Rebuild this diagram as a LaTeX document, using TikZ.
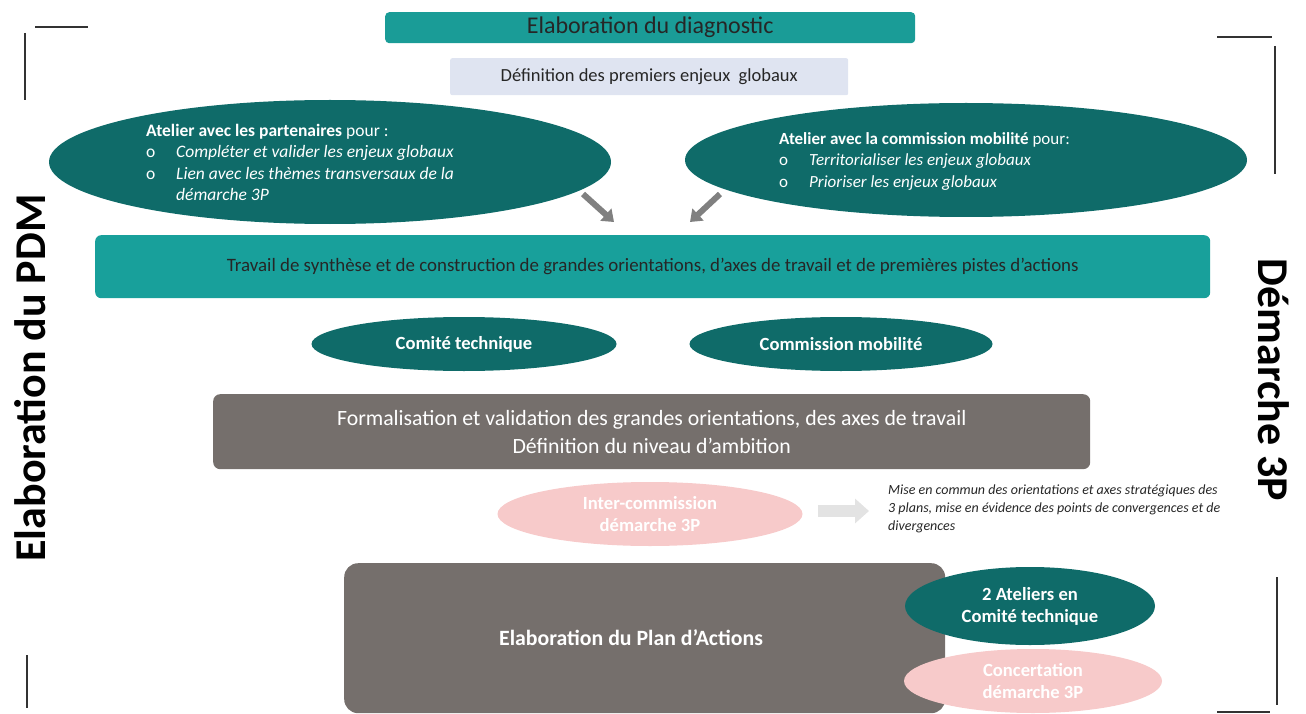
\documentclass[tikz,border=0pt]{standalone}
\usepackage{fontspec}
\setmainfont{Carlito}
\usetikzlibrary{shapes.geometric,arrows.meta}
\definecolor{teal1}{HTML}{1A9C97}
\definecolor{teal2}{HTML}{18A09B}
\definecolor{dteal}{HTML}{0F6B69}
\definecolor{gbox}{HTML}{756F6C}
\definecolor{pink1}{HTML}{F7CACA}
\definecolor{lav}{HTML}{DFE4F1}
\definecolor{arrg}{HTML}{808080}
\definecolor{larr}{HTML}{E3E3E3}
\definecolor{brk}{HTML}{333333}
\newcommand{\bul}{\makebox[30pt][l]{\normalfont o}}
\tikzset{
  bar/.style={rounded corners=4pt, inner sep=0pt, anchor=north west},
  ell/.style={ellipse, inner sep=0pt, fill=dteal, text=white, font=\bfseries\fontsize{18.6}{22}\selectfont, align=center},
  pell/.style={ellipse, inner sep=0pt, fill=pink1, text=white, font=\bfseries\fontsize{18.6}{22}\selectfont, align=center},
  brack/.style={draw=brk, line width=1.4pt},
  blk/.style={draw=arrg, line width=6pt, -{Triangle[length=11pt,width=16pt]}},
  side/.style={font=\bfseries\fontsize{44}{48}\selectfont, text=black}
}
\begin{document}
\begin{tikzpicture}[x=1pt,y=-1pt]
\useasboundingbox (0,0) rectangle (1306,714);
% brackets
\draw[brack] (35,27) -- (88,27);
\draw[brack] (25,33) -- (25,100);
\draw[brack] (27,655) -- (27,708);
\draw[brack] (1217,37) -- (1272,37);
\draw[brack] (1275,46) -- (1275,174);
\draw[brack] (1277,577) -- (1277,705);
\draw[brack] (1217,712) -- (1270,712);
% side titles
\node[side, rotate=90] (pdm) at (30,378) {Elaboration du PDM};
\node[side, rotate=-90] (d3p) at (1274,380) {Démarche 3P};
% top
\node[bar, fill=teal1, minimum width=530pt, minimum height=31pt, font=\fontsize{24}{28}\selectfont, text=black!85] (diag) at (385,12) {Elaboration du diagnostic};
\node[bar, rounded corners=2pt, fill=lav, minimum width=398pt, minimum height=37pt, font=\fontsize{18.5}{22}\selectfont, text=black!85] (def) at (450,58) {Définition des premiers enjeux~ globaux};
% big ellipses
\node[ellipse, fill=dteal, minimum width=562pt, minimum height=124pt] (ellL) at (330,162) {};
\node[anchor=north west, text=white, align=left, font=\fontsize{17.5}{21.3}\selectfont, inner sep=0pt] (txtL) at (146,124) {\textbf{Atelier avec les partenaires} pour :\\ \bul\textit{Compléter et valider les enjeux globaux}\\ \bul\textit{Lien avec les thèmes transversaux de la}\\ \hspace*{30pt}\textit{démarche 3P}};
\node[ellipse, fill=dteal, minimum width=562pt, minimum height=114pt] (ellR) at (966,160) {};
\node[anchor=north west, text=white, align=left, font=\fontsize{17}{21.5}\selectfont, inner sep=0pt] (txtR) at (779,132) {\textbf{Atelier avec la commission mobilité} pour:\\ \bul\textit{Territorialiser les enjeux globaux}\\ \bul\textit{Prioriser les enjeux globaux}};
% synthesis bar
\node[bar, rounded corners=6pt, fill=teal2, minimum width=1115pt, minimum height=63pt, font=\fontsize{18.9}{22}\selectfont, text=black!85] (synth) at (95,235) {Travail de synthèse et de construction de grandes orientations, d’axes de travail et de premières pistes d’actions};
% block arrows
\coordinate (aL1) at (583,194);
\coordinate (aL2) at (614,222);
\coordinate (aR1) at (720,194);
\coordinate (aR2) at (690,222);
\draw[blk] (aL1) -- (aL2);
\draw[blk] (aR1) -- (aR2);
% committee ellipses
\node[ell, minimum width=305pt, minimum height=54pt] (comite) at (464,344) {Comité technique};
\node[ell, minimum width=303pt, minimum height=54pt] (commis) at (841,344) {Commission mobilité};
% formalisation
\node[bar, rounded corners=7pt, fill=gbox, minimum width=877pt, minimum height=75pt, text=white, align=center, font=\fontsize{21.8}{28}\selectfont] (formal) at (213,394) {Formalisation et validation des grandes orientations, des axes de travail\\Définition du niveau d’ambition};
% inter-commission
\node[pell, minimum width=305pt, minimum height=64pt] (inter) at (650,514) {Inter-commission\\démarche 3P};
\coordinate (la1) at (818,511);
\coordinate (la2) at (869,511);
\draw[draw=larr, line width=12pt, -{Triangle[length=14pt,width=24pt]}] (la1) -- (la2);
\node[anchor=north west, inner sep=0pt, align=left, font=\itshape\fontsize{14}{18}\selectfont, text=black!85] (mise) at (888,485) {Mise en commun des orientations et axes stratégiques des\\3 plans, mise en évidence des points de convergences et de\\divergences};
% plan d'actions
\node[bar, rounded corners=14pt, fill=gbox, minimum width=601pt, minimum height=150pt] (plan) at (344,563) {};
\node[text=white, font=\bfseries\fontsize{21.8}{26}\selectfont] (plantxt) at (631,638) {Elaboration du Plan d’Actions};
\node[ell, minimum width=250pt, minimum height=78pt] (ateliers) at (1030,606) {2 Ateliers en\\Comité technique};
\node[pell, minimum width=258pt, minimum height=64pt] (concert) at (1033,681) {Concertation\\démarche 3P};
\end{tikzpicture}
\end{document}
